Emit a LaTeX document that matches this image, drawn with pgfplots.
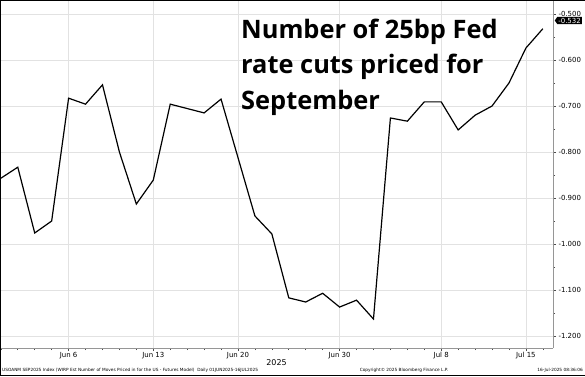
\documentclass[border=0pt]{standalone}
\usepackage{fontspec}
\setmainfont{DejaVu Sans}
\newfontfamily\titlefont{Open Sans}
\usepackage{pgfplots}
\pgfplotsset{compat=1.18}
\usetikzlibrary{shapes.symbols}
\definecolor{gridgray}{RGB}{226,226,226}
\definecolor{axgray}{RGB}{150,150,150}
\pgfplotstableread{
x y
0 -0.857
1 -0.833
2 -0.976
3 -0.950
4 -0.683
5 -0.696
6 -0.654
7 -0.800
8 -0.913
9 -0.861
10 -0.696
12 -0.715
13 -0.685
15 -0.939
16 -0.978
17 -1.117
18 -1.126
19 -1.107
20 -1.137
21 -1.122
22 -1.163
23 -0.726
24 -0.733
25 -0.691
26 -0.691
27 -0.752
28 -0.720
29 -0.700
30 -0.650
31 -0.574
32 -0.532
}\fedtable
\begin{document}
\begin{tikzpicture}[x=1bp,y=1bp]
\path[use as bounding box] (0,0) rectangle (585,-376);
\begin{axis}[
  at={(0,0)}, anchor=north west,
  scale only axis, width=553bp, height=348bp,
  xmin=-0.05, xmax=32.6, ymin=-1.226, ymax=-0.4696,
  axis x line*=bottom, axis y line*=right,
  axis line style={axgray, line width=0.8bp},
  xtick={4,9,14,20,26,31},
  xticklabels={Jun 6, Jun 13, Jun 20, Jun 30, Jul 8, Jul 15},
  minor xtick={0,1,...,32},
  ytick={-1.2,-1.1,-1.0,-0.9,-0.8,-0.7,-0.6,-0.5},
  minor ytick={-1.15,-1.05,-0.95,-0.85,-0.75,-0.65,-0.55},
  xmajorgrids, ymajorgrids,
  major grid style={gridgray, line width=0.8bp},
  tick align=outside,
  major tick length=3bp, minor tick length=2bp,
  tick style={black!70, line width=0.6bp},
  /pgf/number format/assume math mode=true,
  yticklabel style={font=\fontsize{7}{8}\selectfont, /pgf/number format/fixed, /pgf/number format/fixed zerofill, /pgf/number format/precision=3, xshift=-1bp},
  xticklabel style={font=\fontsize{7}{8}\selectfont, yshift=2bp},
  xlabel={2025},
  xlabel style={font=\fontsize{8}{9}\selectfont, at={(axis description cs:0.5,0)}, anchor=center, yshift=-15bp},
  clip=false,
]
\addplot[black, line width=1.2bp, line join=miter] table[x=x,y=y] {\fedtable};
\coordinate (tag) at (axis cs:32.6,-0.5141);
\end{axis}
\draw[black, line width=1.2bp] (585,-0.6) -- (0.6,-0.6) -- (0.6,-375.4) -- (585,-375.4);
\node[signal, signal to=west, signal pointer angle=110, fill=black, text=white, font=\fontsize{7}{8}\selectfont, inner sep=1bp, anchor=west] at ([xshift=1.5bp]tag) {-0.532};
\node[anchor=base west, inner sep=0pt, font=\titlefont\bfseries\fontsize{25.5}{30}\selectfont] at (241,-38) {Number of 25bp Fed};
\node[anchor=base west, inner sep=0pt, font=\titlefont\bfseries\fontsize{25.5}{30}\selectfont] at (241,-73.5) {rate cuts priced for};
\node[anchor=base west, inner sep=0pt, font=\titlefont\bfseries\fontsize{25.5}{30}\selectfont] at (241,-109) {September};
\node[anchor=west, font=\fontsize{4.3}{5}\selectfont, inner sep=0pt] at (2,-370) {USOANM SEP2025 Index (WIRP Est Number of Moves Priced in for the US - Futures Model)\ \ Daily 01JUN2025-16JUL2025};
\node[anchor=center, font=\fontsize{4.3}{5}\selectfont, inner sep=0pt] at (404,-370) {Copyright\textcopyright\ 2025 Bloomberg Finance L.P.};
\node[anchor=east, font=\fontsize{4.3}{5}\selectfont, inner sep=0pt] at (583,-370) {16-Jul-2025 08:36:06};
\end{tikzpicture}
\end{document}
